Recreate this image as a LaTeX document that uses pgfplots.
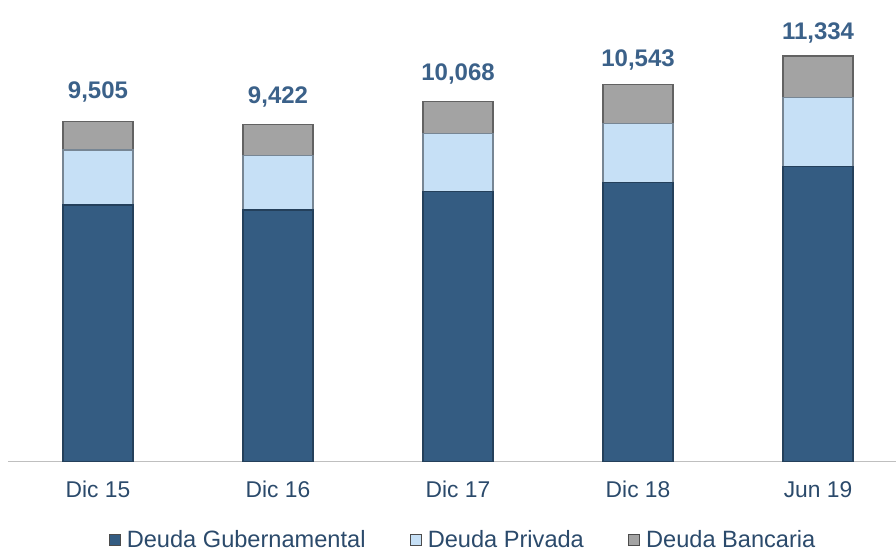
\documentclass[border=0pt]{standalone}
\usepackage{pgfplots}
\pgfplotsset{compat=1.18}
\usepackage{pgfplotstable}
\usepackage{fontspec}
\setmainfont{Liberation Sans}
\definecolor{gov}{HTML}{345C82}
\definecolor{priv}{HTML}{C6E0F6}
\definecolor{banc}{HTML}{A3A3A3}
\definecolor{lblc}{HTML}{3B6189}
\definecolor{tickc}{HTML}{2B4A6B}
\pgfplotstableread{
x gov priv banc total
0 7169 1537 799 9505
1 7029 1518 875 9422
2 7541 1632 895 10068
3 7792 1660 1091 10543
4 8239 1928 1167 11334
}\data
\begin{document}
\begin{tikzpicture}
\begin{axis}[
  at={(4pt,0pt)}, anchor=south west,
  scale only axis,
  width=444pt, height=230.75pt,
  xmin=-0.5, xmax=4.433, ymin=0, ymax=12898,
  ybar stacked, bar width=35pt,
  axis x line=bottom, axis y line=none,
  axis line style={-, draw=black!25, line width=0.8pt},
  xtick={0,1,2,3,4},
  xticklabels={Dic 15, Dic 16, Dic 17, Dic 18, Jun 19},
  xtick style={draw=none},
  xticklabel style={anchor=center, yshift=-11.7pt, font=\fontsize{11.4}{13}\selectfont, text=tickc},
  legend style={at={(0.5,0)}, anchor=center, xshift=6pt, yshift=-39.25pt, draw=none, fill=none,
    legend columns=-1, font=\fontsize{11.8}{13}\selectfont, text=tickc,
    /tikz/every even column/.append style={column sep=20pt},
    legend cell align=left},
  legend image code/.code={\draw[#1, draw=black!70, line width=0.3pt] (0pt,-2.8pt) rectangle (5.6pt,2.8pt);},
]
\addplot[fill=gov, draw=gov!70!black, line width=0.6pt] table[x=x, y=gov]{\data};
\addlegendentry{\hspace{1.2pt}Deuda Gubernamental}
\addplot[fill=priv, draw=priv!60!black, line width=0.6pt] table[x=x, y=priv]{\data};
\addlegendentry{\hspace{1.2pt}Deuda Privada}
\addplot[fill=banc, draw=banc!60!black, line width=0.6pt,
  nodes near coords={\pgfmathprintnumber[assume math mode=true, 1000 sep={,}]{\pgfplotspointmeta}},
  point meta=explicit,
  every node near coord/.append style={anchor=base, yshift=18.5pt, text=lblc, font=\bfseries\fontsize{12}{14}\selectfont}]
  table[x=x, y=banc, meta=total]{\data};
\addlegendentry{\hspace{1.2pt}Deuda Bancaria}
\end{axis}
\pgfresetboundingbox
\path[use as bounding box] (0pt,-44.25pt) rectangle (448pt,230.75pt);
\end{tikzpicture}
\end{document}
